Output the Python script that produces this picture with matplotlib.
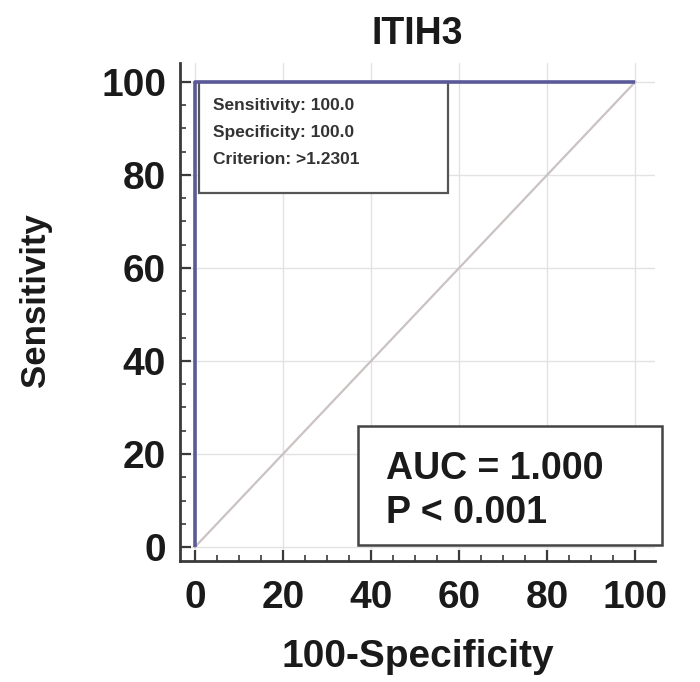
import matplotlib
matplotlib.use("Agg")
import matplotlib.pyplot as plt
from matplotlib.patches import Rectangle
from matplotlib.ticker import MultipleLocator

# ROC curve points (100-Specificity, Sensitivity)
roc_x = [0, 0, 100]
roc_y = [0, 100, 100]
ref_x = [0, 100]
ref_y = [0, 100]
ticks = [0, 20, 40, 60, 80, 100]

title = "ITIH3"
info_lines = ["Sensitivity: 100.0", "Specificity: 100.0", "Criterion: >1.2301"]
auc_lines = ["AUC = 1.000", "P < 0.001"]

plt.rcParams['font.family'] = ['Liberation Sans', 'DejaVu Sans']
plt.rcParams['font.weight'] = 'bold'

fig = plt.figure(figsize=(7, 6.82), dpi=100)
ax = fig.add_axes([0.257, 0.1774, 0.679, 0.73])

ax.set_xlim(-3.4, 104.5)
ax.set_ylim(-3.0, 104)

ax.grid(True, color='#e2e2e2', linewidth=1.0)
ax.set_axisbelow(True)

ax.plot(ref_x, ref_y, color='#cbc2c2', linewidth=1.6, zorder=2)
ax.plot(roc_x, roc_y, color='#5a5a98', linewidth=2.6, zorder=4, solid_capstyle='butt')

for s in ['top', 'right']:
    ax.spines[s].set_visible(False)
for s in ['left', 'bottom']:
    ax.spines[s].set_color('#3a3a3a')
    ax.spines[s].set_linewidth(2.0)

ax.set_xticks(ticks)
ax.set_yticks(ticks)
ax.xaxis.set_minor_locator(MultipleLocator(5))
ax.yaxis.set_minor_locator(MultipleLocator(5))
ax.tick_params(which='major', direction='in', length=8, width=1.6, color='#3a3a3a',
               labelsize=28, labelcolor='#1a1a1a')
ax.tick_params(which='minor', direction='in', length=4, width=1.2, color='#3a3a3a')
ax.tick_params(axis='x', which='major', pad=14)
ax.tick_params(axis='y', which='major', pad=10)
for lbl in ax.get_xticklabels() + ax.get_yticklabels():
    lbl.set_fontweight('bold')

ax.set_xlabel("100-Specificity", fontsize=28, fontweight='bold', color='#1a1a1a', labelpad=16)
ax.set_ylabel("Sensitivity", fontsize=25, fontweight='bold', color='#1a1a1a')
ax.yaxis.set_label_coords(-0.27, 0.525)
ax.set_title(title, fontsize=27, fontweight='bold', color='#1a1a1a', pad=14)

# criterion box
ax.add_patch(Rectangle((1.0, 76.0), 56.5, 24.0, facecolor='white', edgecolor='#555555',
                       linewidth=1.6, zorder=3, clip_on=False))
for i, line in enumerate(info_lines):
    ax.text(4.1, 95.0 - i * 5.9, line, fontsize=12.5, fontweight='bold', color='#333333',
            va='center', ha='left', zorder=5)

# AUC box
ax.add_patch(Rectangle((37.0, 0.4), 69.0, 25.6, facecolor='white', edgecolor='#444444',
                       linewidth=1.8, zorder=3, clip_on=False))
for i, line in enumerate(auc_lines):
    ax.text(43.4, 16.8 - i * 9.4, line, fontsize=27, fontweight='bold', color='#1a1a1a',
            va='center', ha='left', zorder=5)

fig.savefig("out.png", dpi=100)
